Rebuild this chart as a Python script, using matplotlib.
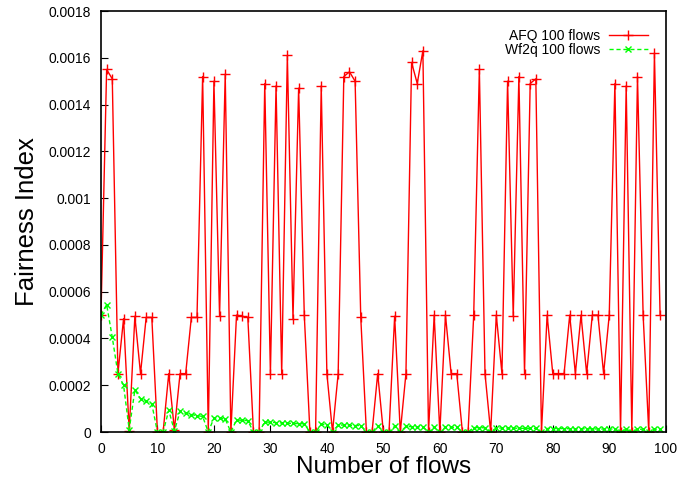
import matplotlib
matplotlib.use("Agg")
import matplotlib.pyplot as plt

plt.rcParams['font.family'] = ['Liberation Sans', 'DejaVu Sans']

#Fairness index per flow for the two schedulers

flows = list(range(100))

afq = [0.0005, 0.00155, 0.00151, 0.00025, 0.000485, 0.000005, 0.000495, 0.00025, 0.00049, 0.00049,
       0.0, 0.0, 0.00025, 0.00001, 0.00025, 0.00025, 0.00049, 0.00049, 0.00152, 0.0,
       0.0015, 0.000495, 0.00153, 0.0, 0.0005, 0.000495, 0.00049, 0.0, 0.0, 0.00149,
       0.00025, 0.00148, 0.00025, 0.00161, 0.000485, 0.00147, 0.0005, 0.0, 0.0, 0.00148,
       0.00025, 0.0, 0.00025, 0.00152, 0.00154, 0.0015, 0.00049, 0.0, 0.0, 0.00025,
       0.0, 0.0, 0.000495, 0.0, 0.00025, 0.00158, 0.00149, 0.00163, 0.0, 0.0005,
       0.0, 0.0005, 0.00025, 0.00025, 0.0, 0.0, 0.0005, 0.00155, 0.00025, 0.0,
       0.0005, 0.00025, 0.0015, 0.000495, 0.00152, 0.00025, 0.00149, 0.00151, 0.0, 0.0005,
       0.00025, 0.00025, 0.00025, 0.0005, 0.00025, 0.0005, 0.00025, 0.0005, 0.0005, 0.00025,
       0.0005, 0.00149, 0.0, 0.00148, 0.0, 0.00152, 0.0005, 0.0, 0.00162, 0.0005]

wf2q = [0.0005, 0.000545, 0.000405, 0.00025, 0.0002, 0.00001, 0.00018, 0.000143, 0.000133, 0.00012,
        0.0, 0.0, 0.000093, 0.000005, 0.000088, 0.00008, 0.000075, 0.00007, 0.000067, 0.0,
        0.00006, 0.000058, 0.000056, 0.0, 0.000052, 0.00005, 0.000049, 0.0, 0.0, 0.000043,
        0.000042, 0.00004, 0.000039, 0.000038, 0.000037, 0.000036, 0.000035, 0.0, 0.0, 0.000033,
        0.000032, 0.0, 0.00003, 0.00003, 0.000029, 0.000028, 0.000028, 0.0, 0.0, 0.000026,
        0.0, 0.0, 0.000025, 0.0, 0.000024, 0.000023, 0.000023, 0.000022, 0.0, 0.000021,
        0.0, 0.000021, 0.00002, 0.00002, 0.0, 0.0, 0.000019, 0.000019, 0.000018, 0.0,
        0.000018, 0.000017, 0.000017, 0.000017, 0.000016, 0.000016, 0.000016, 0.000016, 0.0, 0.000015,
        0.000015, 0.000015, 0.000015, 0.000014, 0.000014, 0.000014, 0.000014, 0.000014, 0.000013, 0.000013,
        0.000013, 0.000013, 0.0, 0.000013, 0.0, 0.000012, 0.000012, 0.0, 0.000012, 0.000012]

yticks = [0, 0.0002, 0.0004, 0.0006, 0.0008, 0.001, 0.0012, 0.0014, 0.0016, 0.0018]
ytick_labels = ["0", "0.0002", "0.0004", "0.0006", "0.0008", "0.001", "0.0012", "0.0014", "0.0016", "0.0018"]
xticks = [0, 10, 20, 30, 40, 50, 60, 70, 80, 90, 100]

fig = plt.figure(figsize=(6.8, 4.79), dpi=100)
ax = fig.add_axes([0.1485, 0.098, 0.8305, 0.879])

ax.plot(flows, afq, color="#ff0000", lw=1.0, marker="+", ms=7, mew=1.0, label="AFQ 100 flows")
ax.plot(flows, wf2q, color="#00ff00", lw=1.0, ls=(0, (3, 2)), marker="x", ms=5, mew=1.0,
        label="Wf2q 100 flows")

ax.set_xlim(0, 100)
ax.set_ylim(0, 0.0018)
ax.set_xticks(xticks)
ax.set_yticks(yticks)
ax.set_yticklabels(ytick_labels)
ax.tick_params(direction="in", length=5, labelsize=10, pad=7)

for s in ax.spines.values():
    s.set_linewidth(1.2)

ax.set_xlabel("Number of flows", fontsize=17.5, labelpad=0)
ax.set_ylabel("Fairness Index", fontsize=18.5, labelpad=7)

ax.legend(loc="upper right", frameon=False, markerfirst=False, fontsize=10,
          handlelength=2.8, handletextpad=0.6, labelspacing=0.0,
          borderaxespad=0.9)

fig.savefig("out.png", dpi=100)
